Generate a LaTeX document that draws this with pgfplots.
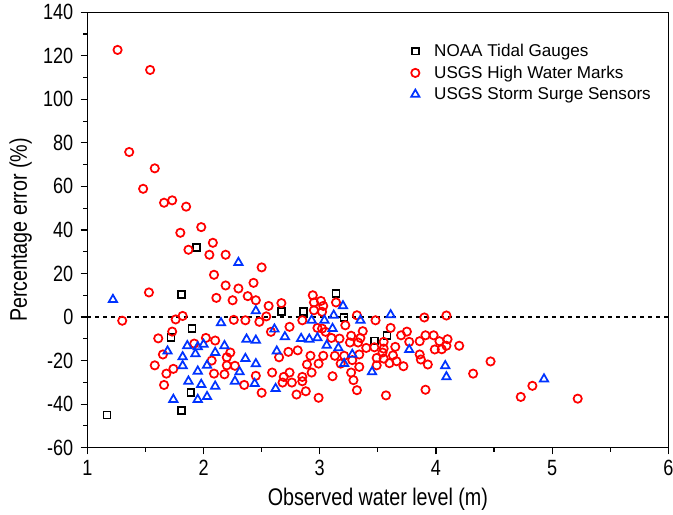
\documentclass[border=0pt]{standalone}
\usepackage{pgfplots}
\pgfplotsset{compat=1.18}
\usepackage{fontspec}
\setmainfont{Liberation Sans}
\newfontfamily\narrow[FakeStretch=0.82]{Liberation Sans}
\definecolor{hwm}{RGB}{255,0,0}
\definecolor{sss}{RGB}{0,51,255}
\begin{document}
\begin{tikzpicture}
\begin{axis}[
  name=ax,
  scale only axis,
  width=435pt, height=326pt,
  xmin=1, xmax=6, ymin=-60, ymax=140,
  xtick={1,2,3,4,5,6}, ytick={-60,-40,...,140},
  minor x tick num=1, minor y tick num=1,
  xtick pos=bottom, ytick pos=left,
  tick align=outside,
  major tick length=5pt, minor tick length=3pt,
  every tick/.style={black, line width=0.9pt},
  axis line style={line width=1pt},
  /pgf/number format/assume math mode=true,
  ticklabel style={font=\narrow\fontsize{16.5}{18}\selectfont},
  xticklabel style={yshift=-1pt},
  yticklabel style={xshift=-2pt},
  label style={font=\narrow\fontsize{18}{20}\selectfont},
  xlabel={Observed water level (m)},
  ylabel={Percentage error (\%)},
  xlabel style={yshift=-2pt},
  ylabel style={inner sep=7pt, yshift=-2pt},
  legend style={draw=none, fill=none, at={(0.55,0.94)}, anchor=north west,
    font=\fontsize{12.8}{14}\selectfont, row sep=1.5pt,
    /tikz/every odd column/.append style={column sep=9pt}},
  legend cell align=left,
]
\addplot[black, dashed, line width=1pt, forget plot] coordinates {(1,0) (6,0)};
\addplot[only marks, mark=square, mark size=2.6pt, black, line width=1.2pt] coordinates {
(1.17,-45) (1.81,10.3) (1.90,-5.3) (1.72,-9.4) (1.89,-34.7) (1.81,-43)
(1.94,32) (3.14,10.8) (2.67,2.5) (2.86,2.5) (3.21,-0.2) (3.47,-11) (3.58,-8.5)
};
\addlegendentry{NOAA Tidal Gauges}
\addplot[only marks, mark=o, mark size=3.1pt, hwm, line width=1.3pt] coordinates {
(1.26,122.7) (1.54,113.5) (1.36,75.8) (1.58,68.3) (1.48,58.9) (1.66,52.5)
(1.73,53.6) (1.85,50.7) (1.80,38.7) (1.98,41.3) (1.87,30.9) (2.08,34.1)
(2.05,28.6) (2.19,28.6) (2.50,22.8) (2.09,19.4) (2.19,14.5) (2.30,13.1)
(2.43,15.7) (1.53,11.3) (2.11,8.8) (2.25,7.7) (2.38,9.6) (2.45,7.7)
(2.56,5.1) (2.67,6.4)
(1.30,-1.7) (1.76,-1.1) (1.82,0.5) (1.73,-6.7) (1.61,-9.8) (2.26,-1.3)
(2.36,-1.5) (2.48,-2.2) (2.54,0.3) (2.58,-6.8) (2.02,-9.6) (2.10,-10.8)
(1.92,-12.2) (1.65,-17.2) (1.58,-22.2) (1.74,-23.8) (1.68,-26) (1.66,-31.2)
(2.07,-20) (2.23,-16.3) (2.20,-18.5) (2.20,-22.2) (2.27,-22.4) (2.09,-26)
(2.18,-26.3) (2.35,-31.2) (2.50,-34.8) (2.45,-27) (2.59,-25.5) (2.65,-18.5)
(2.94,10) (2.95,6.7) (3.01,7.4) (3.03,5.1) (3.14,6.7) (2.95,3.1) (3.02,2.4)
(2.85,-1.5) (3.22,-3.8) (3.32,0.8) (3.48,-1.5) (2.74,-4.5) (2.98,-5)
(3.02,-5.3) (3.05,-6.8) (3.37,-6.5) (3.27,-8.6) (3.10,-9.6) (3.17,-9.9)
(3.26,-11.7) (3.33,-11.7) (3.35,-9.6) (3.40,-14.2) (3.47,-13.9) (3.55,-14.5)
(3.49,-18.8) (3.49,-22.2) (3.55,-19.1) (2.73,-16) (2.81,-15.3) (2.92,-17.8)
(3.03,-17.8) (3.13,-17.8) (3.21,-17.8) (3.34,-17.2) (2.89,-21.8) (2.99,-21.4)
(3.18,-21.4) (3.28,-19.8) (3.34,-22.9) (2.69,-27.5) (2.74,-25.5) (2.85,-27.5)
(2.93,-25.5) (3.11,-27.2) (3.27,-25.5) (3.29,-29) (3.32,-33.6) (2.68,-30.1)
(2.76,-30.1) (2.85,-29.5) (2.80,-35.6) (2.88,-34.1) (2.99,-37.1)
(3.55,-11.4) (3.61,-5) (3.65,-13.7) (3.54,-16.3) (3.63,-17.6) (3.66,-20.3)
(3.60,-21.2) (3.72,-22.6) (3.70,-8.4) (3.75,-6.7) (3.77,-11.4) (3.86,-11.1)
(3.91,-8.4) (3.98,-8.4) (4.03,-11.1) (4.10,-10.2) (4.09,-13.2) (4.05,-14.8)
(3.99,-14.9) (4.20,-13.2) (3.86,-17.2) (3.87,-19.5) (3.93,-21.8) (4.47,-20.4)
(4.32,-26) (3.57,-36) (3.91,-33.4) (3.90,-0.2) (4.09,0.7) (4.83,-31.6)
(4.73,-36.7) (5.22,-37.5)
};
\addlegendentry{USGS High Water Marks}
\addplot[only marks, mark=triangle, mark size=3.6pt, sss, line width=1.3pt] coordinates {
(1.22,8) (1.69,-15.7) (1.74,-37.9) (1.82,-18.3) (1.82,-22.4) (1.86,-13.2)
(1.87,-29.5) (1.93,-16.9) (1.95,-13.7) (1.95,-24.9) (1.95,-37.9) (1.98,-31)
(2.00,-12.6) (2.03,-22.2) (2.03,-36.6) (2.10,-16.3) (2.10,-31.8) (2.15,-2.7)
(2.18,-13.2) (2.27,-29.5) (2.30,25) (2.31,-25.2) (2.36,-19.1) (2.37,-10.2)
(2.44,-30.6) (2.45,2.8) (2.45,-10.7) (2.45,-21.5) (2.61,-5.6) (2.62,-32.9)
(2.63,-15.7) (2.70,-9.1) (2.84,-9.9) (2.91,-10.2) (2.93,-1.5) (2.98,-9.6)
(3.04,-1.5) (3.06,-13) (3.11,-5.3) (3.12,0.8) (3.16,-14.2) (3.20,5.1)
(3.21,-21.4) (3.28,-17.2) (3.35,-1.5) (3.45,-25.2) (3.61,1) (3.77,-15)
(4.08,-22.4) (4.09,-27.5) (4.93,-28.5)
};
\addlegendentry{USGS Storm Surge Sensors}
\end{axis}
\coordinate (tr) at (ax.outer north east -| ax.east);
\pgfresetboundingbox
\useasboundingbox (ax.outer south west) rectangle ([xshift=3.5pt]tr);
\end{tikzpicture}
\end{document}
